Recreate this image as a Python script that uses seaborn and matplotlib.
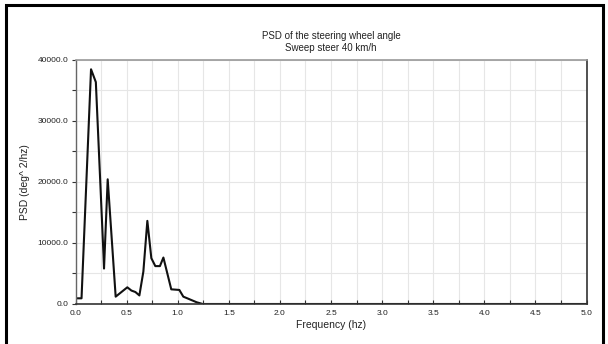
import matplotlib
matplotlib.use("Agg")
import matplotlib.pyplot as plt
from matplotlib.lines import Line2D
from matplotlib.ticker import MultipleLocator, FormatStrFormatter
import seaborn as sns
import pandas as pd

# ---- data ----
freq = [0.0, 0.059, 0.152, 0.199, 0.274, 0.279, 0.315, 0.393, 0.507, 0.547,
        0.586, 0.625, 0.664, 0.703, 0.742, 0.781, 0.826, 0.860, 0.937, 1.016,
        1.055, 1.094, 1.186, 1.245, 5.0]
psd = [930, 930, 38400, 36300, 8000, 5800, 20400, 1200, 2730, 2200,
       1960, 1400, 5300, 13600, 7500, 6200, 6200, 7600, 2400, 2300,
       1200, 930, 280, 0, 0]
title_lines = ["PSD of the steering wheel angle", "Sweep steer 40 km/h"]
xlabel = "Frequency (hz)"
ylabel = "PSD (deg^ 2/hz)"

sns.set_style("white")
plt.rcParams["font.family"] = ["Liberation Sans", "DejaVu Sans"]

df = pd.DataFrame({"freq": freq, "psd": psd})

fig = plt.figure(figsize=(6.08, 3.44), dpi=100)
ax = fig.add_axes([75.5 / 608, 1 - 304 / 344, 511 / 608, 244.5 / 344])

sns.lineplot(data=df, x="freq", y="psd", ax=ax, color="#111111", linewidth=1.5,
             sort=False, estimator=None)

ax.set_xlim(0, 5)
ax.set_ylim(0, 40000)
ax.xaxis.set_major_locator(MultipleLocator(0.5))
ax.xaxis.set_minor_locator(MultipleLocator(0.25))
ax.yaxis.set_major_locator(MultipleLocator(10000))
ax.yaxis.set_minor_locator(MultipleLocator(5000))
ax.xaxis.set_major_formatter(FormatStrFormatter("%.1f"))
ax.yaxis.set_major_formatter(FormatStrFormatter("%.1f"))

ax.grid(True, which="both", color="#e6e6e6", linewidth=0.8)
ax.set_axisbelow(True)

ax.tick_params(axis="x", which="both", direction="in", length=3, width=0.8,
               color="#333333", labelsize=6, pad=4, labelcolor="#222222")
ax.tick_params(axis="y", which="both", direction="out", length=3, width=0.8,
               color="#333333", labelsize=6, pad=2, labelcolor="#222222")
ax.tick_params(axis="both", which="both", bottom=True, left=True)

for side, col, lw in [("top", "#999999", 1.2), ("right", "#333333", 1.2),
                      ("bottom", "#333333", 1.2), ("left", "#666666", 1.0)]:
    ax.spines[side].set_visible(True)
    ax.spines[side].set_color(col)
    ax.spines[side].set_linewidth(lw)

ax.set_xlabel(xlabel, fontsize=7.5, color="#222222")
ax.xaxis.set_label_coords(0.5, -0.065)
ax.set_ylabel(ylabel, fontsize=7.5, color="#222222")
ax.yaxis.set_label_coords(-(75.5 - 30) / 511, 0.5)

fig.text(331 / 608, 1 - 36 / 344, title_lines[0], ha="center", va="center",
         fontsize=7, color="#222222")
fig.text(331 / 608, 1 - 48 / 344, title_lines[1], ha="center", va="center",
         fontsize=7, color="#222222")

# figure border: left, top, right edges only
bx0, bx1, by1 = 6 / 608, 603 / 608, 1 - 5 / 344
fig.lines.append(Line2D([bx0, bx0, bx1, bx1], [-0.1, by1, by1, -0.1],
                        transform=fig.transFigure, color="black",
                        linewidth=2.2, solid_joinstyle="miter", zorder=10))

fig.savefig("out.png", dpi=100)
